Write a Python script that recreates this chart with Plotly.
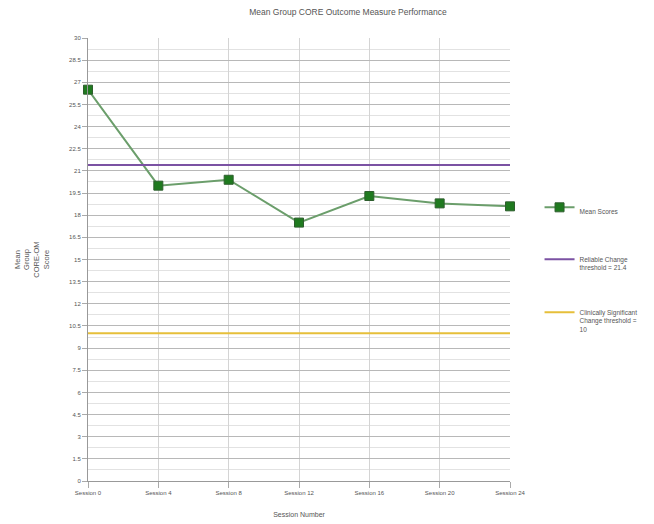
import plotly.graph_objects as go

# Session labels and group mean scores
sessions = ["Session 0", "Session 4", "Session 8", "Session 12", "Session 16", "Session 20", "Session 24"]
mean_scores = [26.5, 20.0, 20.4, 17.5, 19.3, 18.8, 18.6]

# Threshold reference values
reliable_change = 21.4
clinical_change = 10

y_ticks = [i * 1.5 for i in range(21)]
y_ticktext = [("%g" % v) for v in y_ticks]

fig = go.Figure()

fig.add_trace(go.Scatter(
    x=sessions, y=mean_scores, mode="lines+markers",
    name="Mean Scores",
    line=dict(color="#6b9e6b", width=2),
    marker=dict(symbol="square", size=9, color="#1f7a1f", line=dict(color="#2e5e2e", width=1)),
    cliponaxis=False, legendgroup="a",
))
fig.add_trace(go.Scatter(
    x=sessions, y=[reliable_change] * len(sessions), mode="lines",
    name="Reliable Change<br>threshold = %g" % reliable_change,
    line=dict(color="#7b52a3", width=2),
    cliponaxis=False, legendgroup="b",
))
fig.add_trace(go.Scatter(
    x=sessions, y=[clinical_change] * len(sessions), mode="lines",
    name="Clinically Significant<br>Change threshold =<br>%g" % clinical_change,
    line=dict(color="#e6bf3a", width=2),
    cliponaxis=False, legendgroup="c",
))

fig.update_layout(
    width=654, height=524,
    margin=dict(l=88, r=144, t=38, b=43, autoexpand=False),
    paper_bgcolor="white", plot_bgcolor="white",
    font=dict(family="Liberation Sans, Arial, sans-serif", size=7, color="#444444"),
    title=dict(text="Mean Group CORE Outcome Measure Performance", x=0.532, xanchor="center",
               y=0.983, yanchor="top", font=dict(size=8.5, color="#555555")),
    showlegend=True,
    legend=dict(x=1.07, xanchor="left", y=0.642, yanchor="top", tracegroupgap=33,
                valign="top", font=dict(size=6.5, color="#555555"), bgcolor="rgba(0,0,0,0)",
                itemwidth=30),
)

fig.update_xaxes(
    type="category", range=[0, 6],
    showgrid=True, gridcolor="#d4d4d4", gridwidth=1,
    showline=True, linecolor="#999999", linewidth=1,
    ticks="outside", ticklen=6, tickcolor="#aaaaaa",
    tickfont=dict(size=6, color="#555555"),
    title=dict(text="Session Number", font=dict(size=7, color="#555555"), standoff=16),
    zeroline=False,
)
fig.update_yaxes(
    range=[0, 30], tickvals=y_ticks, ticktext=y_ticktext,
    showgrid=True, gridcolor="#b8b8b8", gridwidth=1,
    minor=dict(dtick=0.75, tick0=0, showgrid=True, gridcolor="#e2e2e2", gridwidth=1),
    showline=True, linecolor="#999999", linewidth=1,
    ticks="outside", ticklen=5, tickcolor="#aaaaaa",
    tickfont=dict(size=6, color="#555555"),
    title=dict(text="Mean<br>Group<br>CORE-OM<br>Score", font=dict(size=7.5, color="#555555"), standoff=18),
    zeroline=False,
)

fig.write_html("out.html")
